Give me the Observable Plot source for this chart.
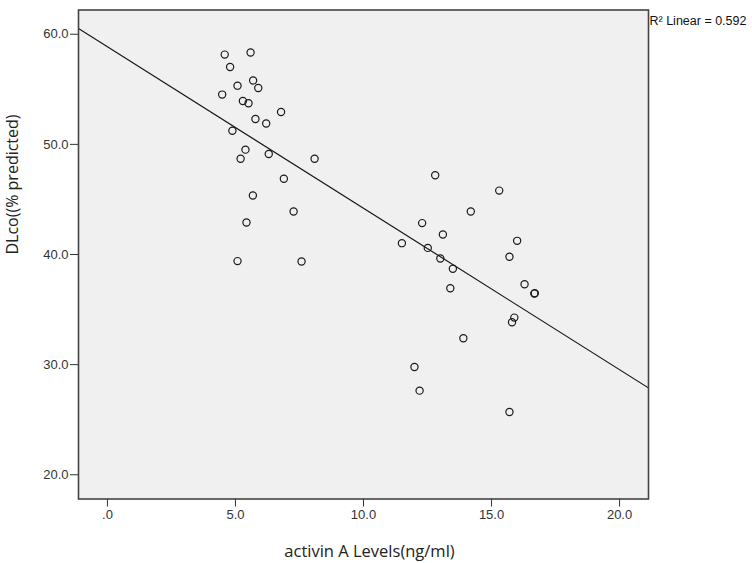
<!DOCTYPE html>
<html>
<head>
<meta charset="utf-8">
<script src="https://cdn.jsdelivr.net/npm/d3@7"></script>
<script src="https://cdn.jsdelivr.net/npm/@observablehq/plot@0.6"></script>
<style>
  html, body { margin: 0; padding: 0; background: #ffffff; }
  #chart svg { display: block; }
</style>
</head>
<body>
<div id="chart"></div>
<script>
// activin A levels (ng/ml)
const activin = [
  4.58, 5.59, 4.79, 5.69, 5.08, 5.89, 4.48, 5.29, 5.51, 6.78, 5.78, 6.20, 4.88,
  5.39, 5.20, 6.30, 8.09, 6.89, 5.68, 7.27, 5.43, 5.08, 7.58,
  12.80, 15.30, 14.19, 12.29, 13.10, 11.50, 16.00, 12.51, 15.70, 13.00, 13.49,
  13.39, 16.29, 16.69, 16.67, 15.89, 15.80, 13.90, 11.99, 12.19, 15.70
];
// DLco (% predicted)
const dlco = [
  58.15, 58.34, 57.03, 55.80, 55.33, 55.12, 54.52, 53.94, 53.73, 52.94, 52.30, 51.90, 51.24,
  49.52, 48.70, 49.12, 48.70, 46.88, 45.36, 43.90, 42.90, 39.40, 39.36,
  47.20, 45.80, 43.90, 42.85, 41.82, 41.03, 41.24, 40.60, 39.79, 39.64, 38.70,
  36.94, 37.30, 36.48, 36.45, 34.27, 33.85, 32.39, 29.79, 27.64, 25.70
];
const xTicks = [0, 5, 10, 15, 20];
const yTicks = [20, 30, 40, 50, 60];
const xDomain = [-1.13, 21.13];
const yDomain = [17.8, 62.2];
// fitted line
const fitIntercept = 58.86;
const fitSlope = -1.466;
const r2Label = "R² Linear = 0.592";
const xTitle = "activin A Levels(ng/ml)";
const yTitle = "DLco((% predicted)";

const points = activin.map((a, i) => ({x: a, y: dlco[i]}));
const fitLine = xDomain.map(x => ({x, y: fitIntercept + fitSlope * x}));
const fmt = d => d === 0 ? ".0" : d.toFixed(1);

const chart = Plot.plot({
  width: 752,
  height: 563,
  marginLeft: 78,
  marginRight: 104,
  marginTop: 9.5,
  marginBottom: 64.5,
  style: {background: "#ffffff", color: "#333", fontFamily: "Liberation Sans, Arial, sans-serif", fontSize: "13px"},
  x: {domain: xDomain},
  y: {domain: yDomain},
  marks: [
    Plot.frame({fill: "#f0f0f0", stroke: "none"}),
    Plot.axisX({ticks: xTicks, tickFormat: fmt, tickSize: 8, tickPadding: 3, label: null, stroke: "#333", fontSize: 13}),
    Plot.axisY({ticks: yTicks, tickFormat: fmt, tickSize: 8, tickPadding: 2, label: null, stroke: "#333", fontSize: 13}),
    Plot.line(fitLine, {x: "x", y: "y", stroke: "#1a1a1a", strokeWidth: 1.2, clip: true}),
    Plot.dot(points, {x: "x", y: "y", r: 3.6, stroke: "#1a1a1a", strokeWidth: 1.2, fill: "none"}),
    Plot.frame({stroke: "#444", strokeWidth: 1.6}),
    Plot.text([r2Label], {frameAnchor: "top-right", dx: 1, dy: 6, textAnchor: "start", lineAnchor: "top", fontSize: 12.5, fill: "#111"}),
    Plot.text([xTitle], {frameAnchor: "bottom", dx: 6, dy: 53, lineAnchor: "middle", fontSize: 16.5, fontFamily: "Open Sans, sans-serif", fill: "#222"}),
    Plot.text([yTitle], {frameAnchor: "left", dx: -66, rotate: -90, lineAnchor: "middle", fontSize: 16, fontFamily: "Open Sans, sans-serif", fill: "#222"})
  ]
});
document.getElementById("chart").appendChild(chart);
</script>
</body>
</html>
